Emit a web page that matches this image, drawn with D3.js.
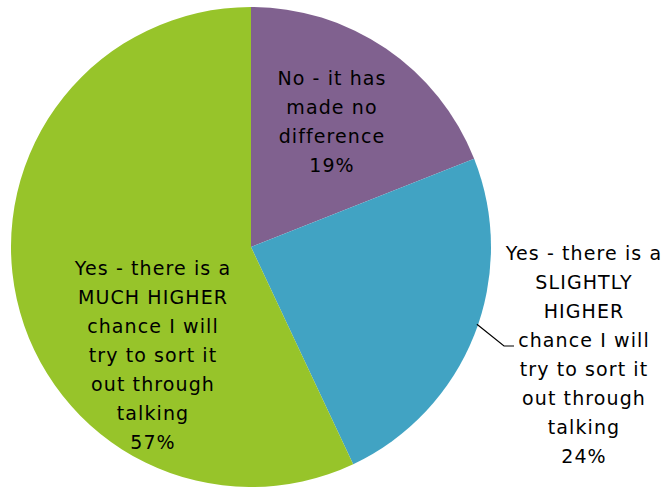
<!DOCTYPE html>
<html>
<head>
<meta charset="utf-8">
<script src="https://cdn.jsdelivr.net/npm/d3@7"></script>
<style>
  html, body { margin: 0; padding: 0; background: #fff; }
  svg text { font-family: "Century Gothic", "DejaVu Sans", sans-serif; fill: #000; }
</style>
</head>
<body>
<svg id="chart" width="664" height="490"></svg>
<script>
// Survey answers, in drawing order (clockwise from 12 o'clock)
const categories = [
  "No - it has made no difference",
  "Yes - there is a SLIGHTLY HIGHER chance I will try to sort it out through talking",
  "Yes - there is a MUCH HIGHER chance I will try to sort it out through talking"
];
const values = [19, 24, 57];
const colors = ["#80618F", "#41A3C3", "#97C42A"];
// Label text broken into lines as shown on the chart
const labelLines = [
  ["No - it has", "made no", "difference", "19%"],
  ["Yes - there is a", "SLIGHTLY", "HIGHER", "chance I will", "try to sort it", "out through", "talking", "24%"],
  ["Yes - there is a", "MUCH HIGHER", "chance I will", "try to sort it", "out through", "talking", "57%"]
];

const svg = d3.select("#chart");
const cx = 251, cy = 247, radius = 240;

const pie = d3.pie().sort(null).value(d => d);
const arcs = pie(values);
const arc = d3.arc().innerRadius(0).outerRadius(radius);

const g = svg.append("g").attr("transform", `translate(${cx},${cy})`);

g.selectAll("path.slice")
  .data(arcs)
  .join("path")
  .attr("class", "slice")
  .attr("d", arc)
  .attr("fill", (d, i) => colors[i]);

// Label anchor positions (centre of first line), relative to pie centre
const labelPos = [
  { x: 81, y: -169 },
  { x: 333, y: 6 },
  { x: -98, y: 21 }
];
const lineH = 29;

labelLines.forEach((lines, i) => {
  const t = g.append("text")
    .attr("text-anchor", "middle")
    .attr("font-size", 19)
    .attr("letter-spacing", 1.1);
  lines.forEach((ln, j) => {
    t.append("tspan")
      .attr("x", labelPos[i].x)
      .attr("y", labelPos[i].y + j * lineH)
      .attr("dy", "0.35em")
      .text(ln);
  });
});

// Leader line from the blue slice to its outside label
const leaderAngle = arcs[1].startAngle + (arcs[1].endAngle - arcs[1].startAngle) * 0.47;
const edge = [Math.sin(leaderAngle) * radius, -Math.cos(leaderAngle) * radius];
g.append("path")
  .attr("d", d3.line()([[edge[0] - 1, edge[1] - 1], [253, 99], [263, 99]]))
  .attr("fill", "none")
  .attr("stroke", "#000")
  .attr("stroke-width", 1.2);
</script>
</body>
</html>
